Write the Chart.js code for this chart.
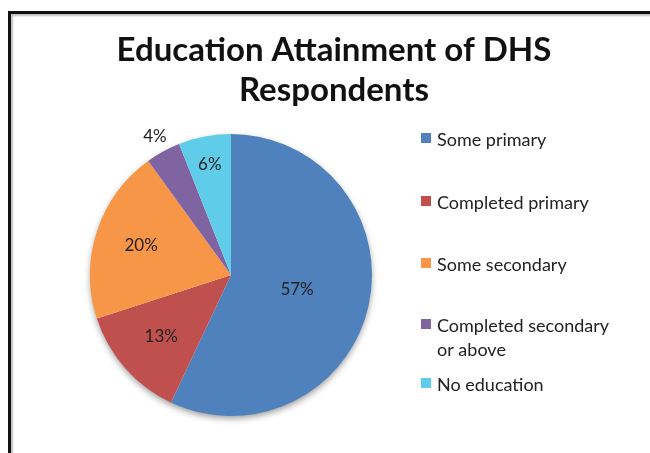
<!DOCTYPE html>
<html>
<head>
<meta charset="utf-8">
<script src="https://cdn.jsdelivr.net/npm/chart.js@4"></script>
<style>
    body { margin: 0; background: #fff; }
    .frame {
        position: absolute; left: 8px; top: 11px; width: 700px; height: 500px;
        border-left: 3px solid #111; border-top: 3px solid #111;
        box-shadow: inset 2px 2px 2px rgba(0,0,0,0.25);
    }
    #wrap { position: absolute; left: 0; top: 0; width: 650px; height: 453px; }
</style>
</head>
<body>
<div class="frame"></div>
<div id="wrap"><canvas id="eduChart" width="650" height="453"></canvas></div>
<script>
const chartTitle = ['Education Attainment of DHS', 'Respondents'];
const categories = ['Some primary', 'Completed primary', 'Some secondary', 'Completed secondary or above', 'No education'];
const shares = [57, 13, 20, 4, 6];
const sliceColors = ['#4F81BD', '#C0504D', '#F79646', '#8064A2', '#5FCDE9'];
// how far out (fraction of radius) each percent label sits
const labelRadius = [0.48, 0.66, 0.67, 1.12, 0.80];
const legendRows = [140, 203, 265, 326, 385];

const font = 'Lato, "Open Sans", sans-serif';

// title drawn by hand so the side padding doesn't squeeze it
const topTitle = {
    id: 'topTitle',
    afterDraw(chart) {
        const ctx = chart.ctx;
        ctx.save();
        ctx.font = 'bold 33px ' + font;
        ctx.fillStyle = '#111';
        ctx.textAlign = 'center';
        ctx.textBaseline = 'middle';
        chartTitle.forEach((t, i) => ctx.fillText(t, 334, 50 + i * 40));
        ctx.restore();
    }
};

// soft shadow under the whole pie
const pieShadow = {
    id: 'pieShadow',
    beforeDatasetsDraw(chart) {
        const arc = chart.getDatasetMeta(0).data[0];
        if (!arc) return;
        const ctx = chart.ctx;
        ctx.save();
        ctx.shadowColor = 'rgba(0,0,0,0.45)';
        ctx.shadowBlur = 7;
        ctx.shadowOffsetY = 3;
        ctx.fillStyle = '#fff';
        ctx.beginPath();
        ctx.arc(arc.x, arc.y, arc.outerRadius - 1, 0, Math.PI * 2);
        ctx.fill();
        ctx.restore();
    }
};

const sliceLabels = {
    id: 'sliceLabels',
    afterDatasetsDraw(chart) {
        const ctx = chart.ctx;
        const meta = chart.getDatasetMeta(0);
        ctx.save();
        ctx.font = '17px ' + font;
        ctx.fillStyle = '#222';
        ctx.textAlign = 'center';
        ctx.textBaseline = 'middle';
        meta.data.forEach((arc, i) => {
            const mid = (arc.startAngle + arc.endAngle) / 2;
            const r = arc.outerRadius * labelRadius[i];
            ctx.fillText(shares[i] + '%', arc.x + Math.cos(mid) * r, arc.y + Math.sin(mid) * r);
        });
        ctx.restore();
    }
};

const sideLegend = {
    id: 'sideLegend',
    afterDraw(chart) {
        const ctx = chart.ctx;
        ctx.save();
        ctx.font = '18px ' + font;
        ctx.textBaseline = 'middle';
        categories.forEach((name, i) => {
            const y = legendRows[i];
            ctx.fillStyle = sliceColors[i];
            ctx.fillRect(421, y - 7, 10, 10);
            ctx.fillStyle = '#222';
            // wrap long names onto a second line
            const words = name.split(' ');
            let line = '', lines = [];
            words.forEach(w => {
                const test = line ? line + ' ' + w : w;
                if (ctx.measureText(test).width > 182 && line) { lines.push(line); line = w; }
                else line = test;
            });
            lines.push(line);
            lines.forEach((l, k) => ctx.fillText(l, 437, y + k * 24));
        });
        ctx.restore();
    }
};

new Chart(document.getElementById('eduChart'), {
    type: 'pie',
    data: {
        labels: categories,
        datasets: [{
            data: shares,
            backgroundColor: sliceColors,
            borderWidth: 0
        }]
    },
    options: {
        responsive: false,
        animation: false,
        layout: { padding: { left: 90, right: 278, top: 134, bottom: 37 } },
        plugins: {
            legend: { display: false },
            tooltip: { enabled: false },
            title: { display: false }
        }
    },
    plugins: [pieShadow, sliceLabels, sideLegend, topTitle]
});
</script>
</body>
</html>
